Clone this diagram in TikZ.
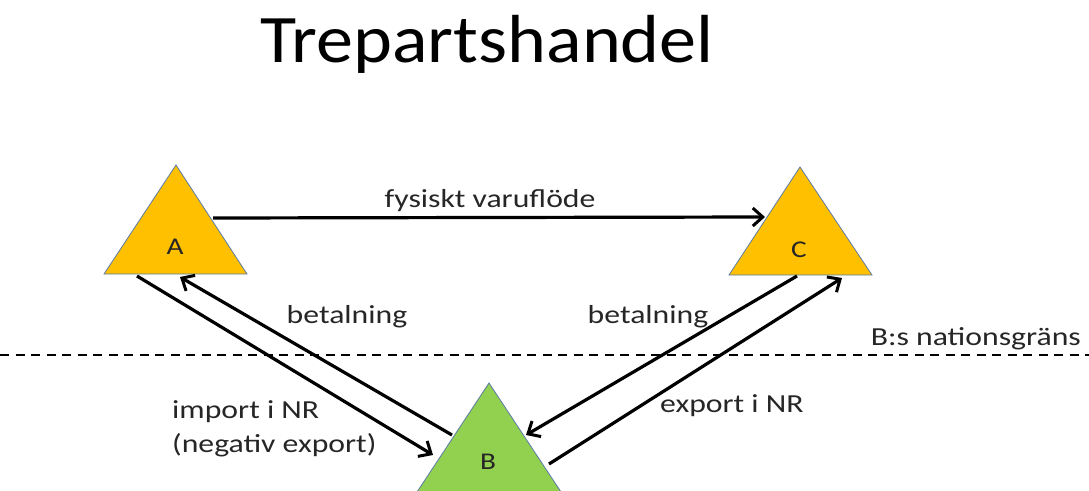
\documentclass[tikz,border=0pt]{standalone}
\usepackage{fontspec}
\setmainfont{Carlito}
\usetikzlibrary{arrows.meta}
\definecolor{triorange}{HTML}{FFC000}
\definecolor{trigreen}{HTML}{92D050}
\definecolor{triedge}{HTML}{5A7BA6}
\newcommand\hstr[1]{\scalebox{1.22}[1]{#1}}
\begin{document}
\begin{tikzpicture}[x=1pt,y=-1pt,
  tri/.style={draw=triedge,line width=0.8pt},
  conn/.style={line width=3.2pt,-{Straight Barb[length=10pt,width=18pt,line width=3pt]}},
  lbl/.style={font=\fontsize{26}{30}\selectfont,inner sep=0pt,text=black!85},
  tlbl/.style={font=\fontsize{24}{28}\selectfont,inner sep=0pt,text=black!85}]
\useasboundingbox (0,0) rectangle (1089,490);
\fill[white] (0,0) rectangle (1089,490);
% title
\node[font=\fontsize{68}{74}\selectfont,inner sep=0pt,anchor=base] (title) at (487,62) {\scalebox{1.09}[1]{Trepartshandel}};
% triangles
\filldraw[tri,fill=triorange] (176,165) -- (247,274) -- (104,274) -- cycle;
\filldraw[tri,fill=triorange] (800,167) -- (872,275) -- (729,275) -- cycle;
\filldraw[tri,fill=trigreen] (489,383) -- (561,492) -- (417,492) -- cycle;
\node[tlbl] (A) at (175,247) {\hstr{A}};
\node[tlbl] (C) at (799,250) {\hstr{C}};
\node[tlbl] (B) at (488,462) {\hstr{B}};
% connection points
\coordinate (aR) at (213,218);
\coordinate (cL) at (765,217);
\coordinate (aB1) at (137,276);
\coordinate (bL1) at (433,455);
\coordinate (bL2) at (452,435);
\coordinate (aB2) at (180,277);
\coordinate (bR1) at (549,464);
\coordinate (cB1) at (842,278);
\coordinate (cB2) at (797,276);
\coordinate (bR2) at (526,435);
% border line
\coordinate (gL) at (0,355);
\coordinate (gR) at (1089,355);
\draw[line width=1.3pt,dash pattern=on 9pt off 6.5pt] (gL) -- (gR);
% arrows
\draw[conn] (aR) -- (cL);
\draw[conn] (aB1) -- (bL1);
\draw[conn] (bL2) -- (aB2);
\draw[conn] (bR1) -- (cB1);
\draw[conn] (cB2) -- (bR2);
% labels
\node[lbl,anchor=base] (l1) at (490,207) {\hstr{fysiskt varuflöde}};
\node[lbl,anchor=base] (l2) at (347,323) {\hstr{betalning}};
\node[lbl,anchor=base] (l3) at (648,323) {\hstr{betalning}};
\node[lbl,anchor=base east] (l4) at (1081,345) {\hstr{B:s nationsgräns}};
\node[lbl,anchor=base west] (l5) at (660,412) {\hstr{export i NR}};
\node[lbl,anchor=base west] (l6) at (172,418) {\hstr{import i NR}};
\node[lbl,anchor=base west] (l7) at (172,452) {\hstr{(negativ export)}};
\end{tikzpicture}
\end{document}
